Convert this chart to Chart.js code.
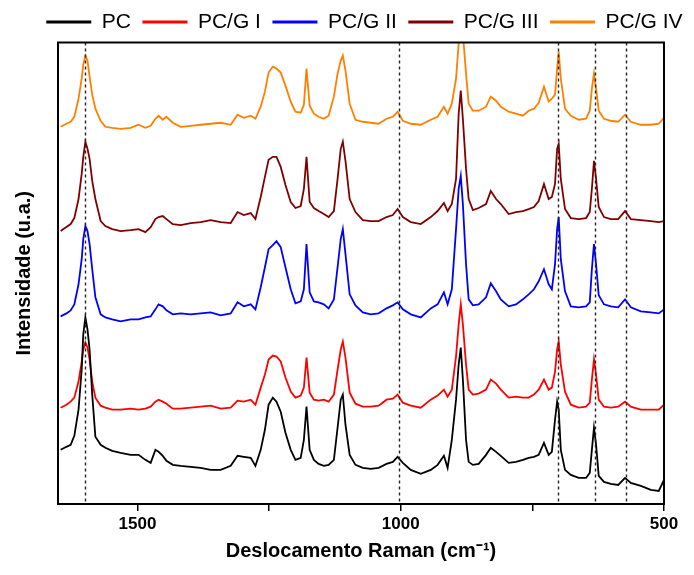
<!DOCTYPE html>
<html>
<head>
<meta charset="utf-8">
<script src="https://cdn.jsdelivr.net/npm/chart.js@4/dist/chart.umd.min.js"></script>
<style>
  html, body { margin: 0; padding: 0; background: #ffffff; }
  #wrap { width: 694px; height: 575px; }
</style>
</head>
<body>
<div id="wrap"><canvas id="raman" width="694" height="575"></canvas></div>
<script>
// Raman shift (cm-1), shared by every spectrum
const ramanShift = [1646,1635,1627,1620,1612,1606,1603,1599,1595,1591,
  1586,1580,1570,1561,1548,1532,1513,1498,1485,1475,
  1466,1460,1452,1445,1433,1418,1399,1380,1361,1342,
  1323,1310,1298,1285,1276,1266,1258,1251,1243,1236,
  1228,1219,1209,1200,1190,1184,1179,1173,1165,1156,
  1146,1137,1127,1120,1114,1110,1105,1097,1086,1072,
  1057,1042,1027,1015,1006,996,981,962,943,930,
  918,911,903,895,890,886,882,876,871,863,
  852,838,829,819,810,795,781,768,757,747,
  738,728,719,713,707,703,700,696,688,677,
  662,648,641,637,633,629,624,614,601,587,
  574,563,544,525,510,500];

// Stacked intensities (a.u.), one array per sample
const pc = [54,57,59,68,94,134,169,186,174,154,
  109,67,59,56,53,51,49,49,44,41,
  54,52,48,43,39,38,37,36,34,34,
  38,48,47,46,38,54,74,99,106,102,
  92,71,54,44,46,64,97,54,44,40,
  38,39,44,76,104,109,79,49,39,36,
  35,36,40,42,47,41,34,30,34,39,
  48,36,64,104,139,156,124,64,42,39,
  40,49,56,52,48,41,42,44,46,47,
  49,61,49,52,84,102,94,54,34,29,
  26,26,31,54,76,59,28,22,20,19,
  26,21,18,14,13,24];

const pcG1 = [96,99,102,106,122,142,154,161,156,144,
  122,106,98,96,94,94,95,94,95,97,
  102,104,102,100,95,95,96,97,98,95,
  96,103,102,104,99,116,129,144,148,147,
  142,126,112,106,108,116,146,111,104,103,
  104,102,109,134,154,162,146,111,100,97,
  97,98,104,105,109,101,98,96,104,108,
  114,107,114,147,179,199,179,139,114,109,
  110,114,124,120,114,106,107,106,106,109,
  114,124,114,116,132,154,162,139,112,99,
  96,97,101,124,144,129,104,97,96,97,
  102,97,94,94,94,99];

const pcG2 = [187,190,193,199,219,244,264,277,272,259,
  234,206,189,186,184,182,184,184,186,187,
  194,199,197,193,189,190,189,190,191,188,
  190,201,197,199,194,216,236,254,258,262,
  256,236,214,200,202,214,259,211,202,201,
  199,195,204,236,264,274,249,209,198,191,
  189,190,195,198,201,194,189,186,195,199,
  211,199,214,274,314,327,299,239,204,198,
  199,206,220,212,204,197,199,204,209,214,
  222,234,219,214,239,274,286,244,212,197,
  196,197,201,234,259,239,208,199,197,196,
  204,196,192,191,190,194];

const pcG3 = [272,276,279,285,304,329,346,361,354,344,
  322,304,282,277,274,272,273,274,271,276,
  284,286,287,284,279,278,280,281,283,281,
  280,291,288,290,284,306,326,343,346,346,
  336,318,301,295,297,314,346,301,295,292,
  289,286,292,324,354,361,342,304,291,283,
  282,282,286,288,294,286,281,279,286,292,
  300,292,299,324,389,412,384,334,304,293,
  295,299,312,304,299,289,291,292,294,296,
  302,319,304,306,319,354,359,324,294,285,
  284,285,291,314,342,324,296,286,284,284,
  292,284,283,282,281,282];

const pcG4 = [376,379,381,386,404,424,438,447,442,426,
  408,394,382,376,375,374,375,378,375,377,
  384,387,383,386,380,376,377,378,379,380,
  378,388,385,387,384,396,411,430,436,434,
  430,417,401,391,390,398,434,397,389,386,
  384,387,406,429,442,447,432,399,383,381,
  380,379,384,386,391,382,379,378,383,386,
  396,389,399,424,459,474,469,429,399,392,
  392,396,406,402,396,391,389,387,392,394,
  400,416,401,404,408,434,451,424,394,387,
  383,384,392,414,429,414,392,384,382,381,
  388,381,378,378,379,385];

const seriesNames = ['PC', 'PC/G I', 'PC/G II', 'PC/G III', 'PC/G IV'];
const seriesValues = [pc, pcG1, pcG2, pcG3, pcG4];
const seriesColors = ['#000000', '#ff0000', '#0000ff', '#800000', '#ff8000'];

// Axis ticks and marked bands
const tickValues = [500, 750, 1000, 1250, 1500];
const tickLabels = [500, 1000, 1500];
const bandPositions = [1599, 1004, 701, 631, 573];

const FONT = "'Liberation Sans', Arial, sans-serif";
Chart.defaults.font.family = FONT;
Chart.defaults.color = '#000';

// Dashed band markers plus the closed frame round the plot area
const bandsAndFrame = {
  id: 'bandsAndFrame',
  afterDatasetsDraw(chart) {
    const { ctx, chartArea: a, scales: { x } } = chart;
    ctx.save();
    ctx.strokeStyle = '#222';
    ctx.lineWidth = 1.4;
    ctx.setLineDash([3, 3]);
    bandPositions.forEach(v => {
      const px = Math.round(x.getPixelForValue(v)) + 0.5;
      ctx.beginPath();
      ctx.moveTo(px, a.top);
      ctx.lineTo(px, a.bottom);
      ctx.stroke();
    });
    ctx.setLineDash([]);
    ctx.strokeStyle = '#000';
    ctx.lineWidth = 2;
    ctx.strokeRect(a.left, a.top, a.right - a.left, a.bottom - a.top);
    ctx.restore();
  }
};

const datasets = seriesNames.map((name, k) => ({
  label: name,
  data: seriesValues[k].map((v, i) => ({ x: ramanShift[i], y: v })),
  borderColor: seriesColors[k],
  backgroundColor: seriesColors[k],
  borderWidth: 1.8,
  pointRadius: 0,
  tension: 0,
  fill: false
}));

new Chart(document.getElementById('raman'), {
  type: 'line',
  data: { datasets },
  options: {
    responsive: false,
    animation: false,
    layout: { padding: { left: 0, right: 0, top: 0, bottom: 0 } },
    plugins: {
      tooltip: { enabled: false },
      legend: {
        position: 'top',
        align: 'end',
        labels: {
          boxWidth: 45,
          boxHeight: 3,
          padding: 11.5,
          color: '#000',
          font: { size: 21, family: FONT },
          generateLabels: (chart) =>
            Chart.defaults.plugins.legend.labels.generateLabels(chart)
              .map(item => Object.assign(item, { lineWidth: 0 }))
        }
      }
    },
    scales: {
      x: {
        type: 'linear',
        reverse: true,
        min: 500,
        max: 1651,
        afterBuildTicks: s => { s.ticks = tickValues.map(v => ({ value: v })); },
        afterFit: s => { s.height = 71; },
        ticks: {
          autoSkip: false,
          maxRotation: 0,
          padding: 3,
          color: '#000',
          font: { size: 17, weight: 'bold' },
          callback: v => tickLabels.includes(v) ? String(v) : ''
        },
        grid: { display: true, drawOnChartArea: false, drawTicks: true, tickLength: 7, color: '#000', lineWidth: 1.5 },
        border: { display: true, color: '#000', width: 2 },
        title: {
          display: true,
          text: 'Deslocamento Raman (cm⁻¹)',
          color: '#000',
          font: { size: 20, weight: 'bold' },
          padding: { top: 0, bottom: 12 }
        }
      },
      y: {
        min: 0,
        max: 460,
        afterFit: s => { s.width = 58; },
        ticks: { display: false },
        grid: { display: false, drawTicks: false },
        border: { display: true, color: '#000', width: 2 },
        title: {
          display: true,
          text: 'Intensidade (u.a.)',
          color: '#000',
          font: { size: 20, weight: 'bold' },
          padding: { top: 12, bottom: 0 }
        }
      },
      yRight: {
        position: 'right',
        display: true,
        min: 0,
        max: 460,
        afterFit: s => { s.width = 30; },
        ticks: { display: false },
        grid: { display: false, drawTicks: false },
        border: { display: false }
      }
    }
  },
  plugins: [bandsAndFrame]
});
</script>
</body>
</html>
